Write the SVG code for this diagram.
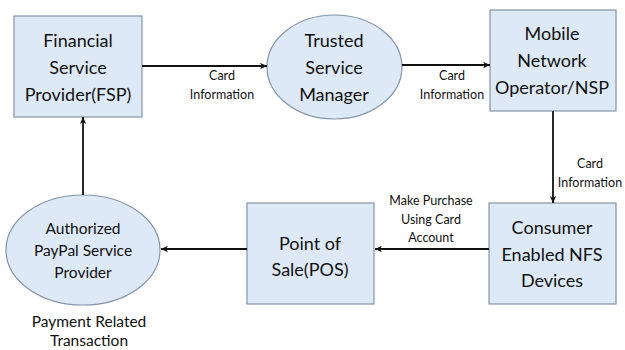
<svg xmlns="http://www.w3.org/2000/svg" width="625" height="350" viewBox="0 0 625 350">
<defs>
<marker id="ah" markerWidth="8" markerHeight="8" refX="7" refY="4" orient="auto" markerUnits="userSpaceOnUse">
<path d="M0,0.8 L7,4 L0,7.2 L2,4 Z" fill="#111"/>
</marker>
<style>
.node{fill:#DDE9F6;stroke:#8494A8;stroke-width:1.2}
.t{font-family:Lato,"Open Sans",sans-serif;font-size:18px;fill:#111;text-anchor:middle}
.s{font-family:Lato,"Open Sans",sans-serif;font-size:15.5px;fill:#111;text-anchor:middle}
.l{font-family:Lato,"Open Sans",sans-serif;font-size:12.5px;fill:#111;text-anchor:middle}
.c{stroke:#111;stroke-width:1.8;fill:none;marker-end:url(#ah)}
</style>
</defs>
<rect width="625" height="350" fill="#fff"/>
<g id="fsp">
<rect class="node" x="14" y="16" width="128" height="101"/>
<text class="t" x="78" y="47">Financial</text>
<text class="t" x="78" y="74">Service</text>
<text class="t" x="78" y="101">Provider(FSP)</text>
</g>
<g id="tsm">
<ellipse class="node" cx="334.5" cy="67" rx="67.5" ry="52"/>
<text class="t" x="334" y="47">Trusted</text>
<text class="t" x="334" y="74">Service</text>
<text class="t" x="334" y="101">Manager</text>
</g>
<g id="mno">
<rect class="node" x="490" y="10" width="126" height="101"/>
<text class="t" x="552" y="40">Mobile</text>
<text class="t" x="552" y="67">Network</text>
<text class="t" x="552" y="94">Operator/NSP</text>
</g>
<g id="consumer">
<rect class="node" x="489" y="203" width="127" height="101"/>
<text class="t" x="552" y="234">Consumer</text>
<text class="t" x="552" y="261">Enabled NFS</text>
<text class="t" x="552" y="287">Devices</text>
</g>
<g id="pos">
<rect class="node" x="247" y="203" width="127" height="101"/>
<text class="t" x="310" y="250">Point of</text>
<text class="t" x="310" y="276">Sale(POS)</text>
</g>
<g id="apsp">
<ellipse class="node" cx="83" cy="250" rx="77" ry="55"/>
<text class="s" x="83" y="234">Authorized</text>
<text class="s" x="83" y="256">PayPal Service</text>
<text class="s" x="83" y="278">Provider</text>
</g>
<g id="note">
<text class="s" x="89" y="327">Payment Related</text>
<text class="s" x="89" y="346">Transaction</text>
</g>
<g id="connectors">
<line class="c" x1="142" y1="66" x2="267" y2="66"/>
<line class="c" x1="402" y1="65" x2="490" y2="65"/>
<line class="c" x1="553" y1="111" x2="553" y2="203"/>
<line class="c" x1="489" y1="249" x2="375" y2="249"/>
<line class="c" x1="247" y1="249" x2="161" y2="249"/>
<line class="c" x1="83" y1="195" x2="83" y2="117"/>
<text class="l" x="222" y="80">Card</text>
<text class="l" x="222" y="99">Information</text>
<text class="l" x="452" y="80">Card</text>
<text class="l" x="452" y="99">Information</text>
<text class="l" x="590" y="168">Card</text>
<text class="l" x="590" y="187">Information</text>
<text class="l" x="431" y="205">Make Purchase</text>
<text class="l" x="431" y="224">Using Card</text>
<text class="l" x="431" y="242">Account</text>
</g>
</svg>
